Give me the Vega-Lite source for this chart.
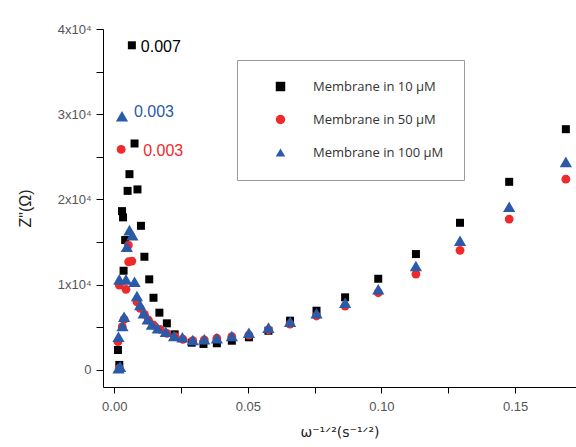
{
  "$schema": "https://vega.github.io/schema/vega-lite/v6.json",
  "width": 473,
  "height": 358,
  "autosize": "none",
  "padding": {"left": 103, "top": 29, "right": 0, "bottom": 60},
  "background": "white",
  "config": {"view": {"stroke": null}, "font": "Liberation Sans",
    "legend": {"title": null, "orient": "none", "legendX": 134, "legendY": 31,
      "strokeColor": "#999", "fillColor": "white", "padding": 20, "rowPadding": 19,
      "symbolOffset": 17, "labelOffset": 26, "labelFont": "Open Sans", "labelFontSize": 13,
      "labelColor": "#333", "symbolSize": 90}},
  "data": {"values": [
    {"s": "Membrane in 10 μM", "x": 0.0019, "y": 590},
    {"s": "Membrane in 10 μM", "x": 0.0014, "y": 2340},
    {"s": "Membrane in 10 μM", "x": 0.0035, "y": 11640},
    {"s": "Membrane in 10 μM", "x": 0.0041, "y": 15240},
    {"s": "Membrane in 10 μM", "x": 0.0029, "y": 18635},
    {"s": "Membrane in 10 μM", "x": 0.0033, "y": 17900},
    {"s": "Membrane in 10 μM", "x": 0.0050, "y": 21010},
    {"s": "Membrane in 10 μM", "x": 0.0057, "y": 22970},
    {"s": "Membrane in 10 μM", "x": 0.0066, "y": 38090, "label": "0.007"},
    {"s": "Membrane in 10 μM", "x": 0.0076, "y": 26570},
    {"s": "Membrane in 10 μM", "x": 0.0087, "y": 21180},
    {"s": "Membrane in 10 μM", "x": 0.0100, "y": 16910},
    {"s": "Membrane in 10 μM", "x": 0.0113, "y": 13280},
    {"s": "Membrane in 10 μM", "x": 0.0131, "y": 10630},
    {"s": "Membrane in 10 μM", "x": 0.0147, "y": 8470},
    {"s": "Membrane in 10 μM", "x": 0.0169, "y": 6720},
    {"s": "Membrane in 10 μM", "x": 0.0197, "y": 5470},
    {"s": "Membrane in 10 μM", "x": 0.0226, "y": 4180},
    {"s": "Membrane in 10 μM", "x": 0.0290, "y": 3200},
    {"s": "Membrane in 10 μM", "x": 0.0334, "y": 3050},
    {"s": "Membrane in 10 μM", "x": 0.0384, "y": 3130},
    {"s": "Membrane in 10 μM", "x": 0.0440, "y": 3430},
    {"s": "Membrane in 10 μM", "x": 0.0504, "y": 3830},
    {"s": "Membrane in 10 μM", "x": 0.0577, "y": 4600},
    {"s": "Membrane in 10 μM", "x": 0.0658, "y": 5780},
    {"s": "Membrane in 10 μM", "x": 0.0757, "y": 6950},
    {"s": "Membrane in 10 μM", "x": 0.0864, "y": 8520},
    {"s": "Membrane in 10 μM", "x": 0.0988, "y": 10700},
    {"s": "Membrane in 10 μM", "x": 0.1129, "y": 13595},
    {"s": "Membrane in 10 μM", "x": 0.1294, "y": 17265},
    {"s": "Membrane in 10 μM", "x": 0.1478, "y": 22070},
    {"s": "Membrane in 10 μM", "x": 0.1690, "y": 28245},
    {"s": "Membrane in 50 μM", "x": 0.0019, "y": 200},
    {"s": "Membrane in 50 μM", "x": 0.0014, "y": 3320},
    {"s": "Membrane in 50 μM", "x": 0.0030, "y": 5080},
    {"s": "Membrane in 50 μM", "x": 0.0037, "y": 5940},
    {"s": "Membrane in 50 μM", "x": 0.0019, "y": 9960},
    {"s": "Membrane in 50 μM", "x": 0.0044, "y": 9460},
    {"s": "Membrane in 50 μM", "x": 0.0053, "y": 14650},
    {"s": "Membrane in 50 μM", "x": 0.0054, "y": 12690},
    {"s": "Membrane in 50 μM", "x": 0.0066, "y": 12770},
    {"s": "Membrane in 50 μM", "x": 0.0026, "y": 25870, "label": "0.003"},
    {"s": "Membrane in 50 μM", "x": 0.0085, "y": 8000},
    {"s": "Membrane in 50 μM", "x": 0.0097, "y": 7230},
    {"s": "Membrane in 50 μM", "x": 0.0113, "y": 6530},
    {"s": "Membrane in 50 μM", "x": 0.0128, "y": 5860},
    {"s": "Membrane in 50 μM", "x": 0.0147, "y": 5270},
    {"s": "Membrane in 50 μM", "x": 0.0172, "y": 4770},
    {"s": "Membrane in 50 μM", "x": 0.0197, "y": 4300},
    {"s": "Membrane in 50 μM", "x": 0.0228, "y": 3900},
    {"s": "Membrane in 50 μM", "x": 0.0257, "y": 3600},
    {"s": "Membrane in 50 μM", "x": 0.0294, "y": 3450},
    {"s": "Membrane in 50 μM", "x": 0.0337, "y": 3520},
    {"s": "Membrane in 50 μM", "x": 0.0384, "y": 3715},
    {"s": "Membrane in 50 μM", "x": 0.0440, "y": 3900},
    {"s": "Membrane in 50 μM", "x": 0.0504, "y": 4100},
    {"s": "Membrane in 50 μM", "x": 0.0577, "y": 4690},
    {"s": "Membrane in 50 μM", "x": 0.0658, "y": 5390},
    {"s": "Membrane in 50 μM", "x": 0.0757, "y": 6330},
    {"s": "Membrane in 50 μM", "x": 0.0864, "y": 7500},
    {"s": "Membrane in 50 μM", "x": 0.0988, "y": 9060},
    {"s": "Membrane in 50 μM", "x": 0.1129, "y": 11250},
    {"s": "Membrane in 50 μM", "x": 0.1294, "y": 14030},
    {"s": "Membrane in 50 μM", "x": 0.1478, "y": 17700},
    {"s": "Membrane in 50 μM", "x": 0.1690, "y": 22385},
    {"s": "Membrane in 100 μM", "x": 0.0022, "y": 390},
    {"s": "Membrane in 100 μM", "x": 0.0016, "y": 200},
    {"s": "Membrane in 100 μM", "x": 0.0016, "y": 3900},
    {"s": "Membrane in 100 μM", "x": 0.0031, "y": 5160},
    {"s": "Membrane in 100 μM", "x": 0.0037, "y": 6250},
    {"s": "Membrane in 100 μM", "x": 0.0019, "y": 10630},
    {"s": "Membrane in 100 μM", "x": 0.0044, "y": 10630},
    {"s": "Membrane in 100 μM", "x": 0.0076, "y": 10350},
    {"s": "Membrane in 100 μM", "x": 0.0047, "y": 14450},
    {"s": "Membrane in 100 μM", "x": 0.0057, "y": 16400},
    {"s": "Membrane in 100 μM", "x": 0.0068, "y": 15800},
    {"s": "Membrane in 100 μM", "x": 0.0029, "y": 29770, "label": "0.003"},
    {"s": "Membrane in 100 μM", "x": 0.0085, "y": 8670},
    {"s": "Membrane in 100 μM", "x": 0.0097, "y": 7620},
    {"s": "Membrane in 100 μM", "x": 0.0110, "y": 6645},
    {"s": "Membrane in 100 μM", "x": 0.0125, "y": 5940},
    {"s": "Membrane in 100 μM", "x": 0.0141, "y": 5350},
    {"s": "Membrane in 100 μM", "x": 0.0163, "y": 4890},
    {"s": "Membrane in 100 μM", "x": 0.0193, "y": 4490},
    {"s": "Membrane in 100 μM", "x": 0.0224, "y": 3985},
    {"s": "Membrane in 100 μM", "x": 0.0255, "y": 3830},
    {"s": "Membrane in 100 μM", "x": 0.0294, "y": 3520},
    {"s": "Membrane in 100 μM", "x": 0.0337, "y": 3600},
    {"s": "Membrane in 100 μM", "x": 0.0384, "y": 3715},
    {"s": "Membrane in 100 μM", "x": 0.0440, "y": 3985},
    {"s": "Membrane in 100 μM", "x": 0.0504, "y": 4370},
    {"s": "Membrane in 100 μM", "x": 0.0577, "y": 4960},
    {"s": "Membrane in 100 μM", "x": 0.0658, "y": 5660},
    {"s": "Membrane in 100 μM", "x": 0.0757, "y": 6645},
    {"s": "Membrane in 100 μM", "x": 0.0864, "y": 7890},
    {"s": "Membrane in 100 μM", "x": 0.0988, "y": 9460},
    {"s": "Membrane in 100 μM", "x": 0.1129, "y": 12190},
    {"s": "Membrane in 100 μM", "x": 0.1294, "y": 15155},
    {"s": "Membrane in 100 μM", "x": 0.1478, "y": 19140},
    {"s": "Membrane in 100 μM", "x": 0.1690, "y": 24410}
  ]},
  "encoding": {
    "x": {"field": "x", "type": "quantitative",
      "scale": {"domain": [-0.0042, 0.1728], "nice": false, "zero": false},
      "axis": {"orient": "bottom", "values": [0, 0.025, 0.05, 0.075, 0.1, 0.125, 0.15],
        "labelExpr": "(round(datum.value * 1000) % 50 === 0) ? format(datum.value, '.2f') : ''", "grid": false,
        "domainColor": "black", "tickColor": "black", "tickSize": 6, "labelPadding": 7,
        "labelFont": "Liberation Sans", "labelFontSize": 13, "labelColor": "#555",
        "title": "ω⁻¹ᐟ²(s⁻¹ᐟ²)", "titleFont": "DejaVu Sans", "titleFontSize": 14, "titleFontWeight": "normal",
        "titleColor": "#222", "titlePadding": 12}},
    "y": {"field": "y", "type": "quantitative",
      "scale": {"domain": [-2000, 40000], "nice": false, "zero": false},
      "axis": {"orient": "left", "values": [0, 5000, 10000, 15000, 20000, 25000, 30000, 35000, 40000],
        "labelExpr": "datum.value === 0 ? '0' : (datum.value % 10000 === 0 ? (datum.value / 10000) + 'x10⁴' : '')", "grid": false,
        "domainColor": "black", "tickColor": "black", "tickSize": 7, "labelPadding": 5,
        "labelFont": "Liberation Sans", "labelFontSize": 13, "labelColor": "#555",
        "title": "Z\"(Ω)", "titleFont": "Liberation Sans", "titleFontSize": 16, "titleFontWeight": "normal",
        "titleColor": "#222", "titlePadding": 24}}
  },
  "layer": [
    {
      "transform": [{"filter": "datum.s === 'Membrane in 10 μM'"}],
      "mark": {"type": "point", "filled": true, "opacity": 1, "strokeWidth": 0, "size": 64},
      "encoding": {
        "color": {"field": "s", "type": "nominal",
          "scale": {"domain": ["Membrane in 10 μM", "Membrane in 50 μM", "Membrane in 100 μM"],
            "range": ["#000000", "#ee2a2a", "#2a5aa8"]}},
        "shape": {"field": "s", "type": "nominal",
          "scale": {"domain": ["Membrane in 10 μM", "Membrane in 50 μM", "Membrane in 100 μM"],
            "range": ["square", "circle", "triangle-up"]}}
      }
    },
    {
      "transform": [{"filter": "datum.s === 'Membrane in 50 μM'"}],
      "mark": {"type": "point", "filled": true, "opacity": 1, "strokeWidth": 0, "size": 78},
      "encoding": {
        "color": {"field": "s", "type": "nominal"},
        "shape": {"field": "s", "type": "nominal"}
      }
    },
    {
      "transform": [{"filter": "datum.s === 'Membrane in 100 μM'"}],
      "mark": {"type": "point", "filled": true, "opacity": 1, "strokeWidth": 0, "size": 150},
      "encoding": {
        "color": {"field": "s", "type": "nominal"},
        "shape": {"field": "s", "type": "nominal"}
      }
    },
    {
      "transform": [{"filter": "datum.label === '0.007'"}],
      "mark": {"type": "text", "align": "left", "baseline": "middle", "dx": 9, "dy": 2,
        "font": "Liberation Sans", "fontSize": 16, "color": "#000000"},
      "encoding": {"text": {"field": "label"}}
    },
    {
      "transform": [{"filter": "datum.label === '0.003' && datum.s === 'Membrane in 100 μM'"}],
      "mark": {"type": "text", "align": "left", "baseline": "middle", "dx": 12, "dy": -4,
        "font": "Liberation Sans", "fontSize": 16, "color": "#2a5aa8"},
      "encoding": {"text": {"field": "label"}}
    },
    {
      "transform": [{"filter": "datum.label === '0.003' && datum.s === 'Membrane in 50 μM'"}],
      "mark": {"type": "text", "align": "left", "baseline": "middle", "dx": 22, "dy": 2,
        "font": "Liberation Sans", "fontSize": 16, "color": "#ee2a2a"},
      "encoding": {"text": {"field": "label"}}
    }
  ]
}
